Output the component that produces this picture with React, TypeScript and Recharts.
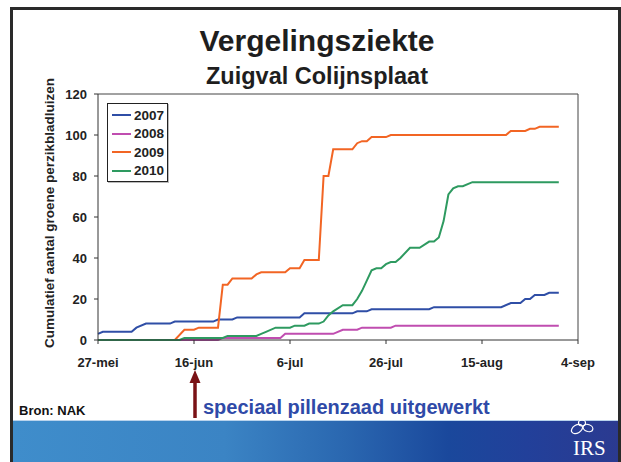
import React from 'react';
import { LineChart, Line, XAxis, YAxis, ReferenceLine } from 'recharts';

const title = 'Vergelingsziekte';
const subtitle = 'Zuigval Colijnsplaat';
const yLabel = 'Cumulatief aantal groene perzikbladluizen';
const xTickDays = [0, 20, 40, 60, 80, 100];
const xTickLabels = ['27-mei', '16-jun', '6-jul', '26-jul', '15-aug', '4-sep'];
const yTicks = [0, 20, 40, 60, 80, 100, 120];

const years = ['2007', '2008', '2009', '2010'];
const colors = ['#2f4ea6', '#c04db0', '#f26524', '#2e9a60'];

const days2007 = [0, 1, 7, 8, 10, 15, 16, 24, 25, 28, 29, 42, 43, 53, 54, 56, 57, 69, 70, 84, 86, 88, 89, 90, 91, 93, 94, 96];
const vals2007 = [3, 4, 4, 6, 8, 8, 9, 9, 10, 10, 11, 11, 13, 13, 14, 14, 15, 15, 16, 16, 18, 18, 20, 20, 22, 22, 23, 23];

const days2008 = [0, 25, 26, 38, 39, 49, 51, 54, 55, 61, 62, 96];
const vals2008 = [0, 0, 1, 1, 3, 3, 5, 5, 6, 6, 7, 7];

const days2009 = [0, 16, 18, 20, 21, 25, 26, 27, 28, 32, 33, 34, 39, 40, 42, 43, 46, 47, 48, 49, 53, 54, 55, 56, 57, 60, 61, 85, 86, 89, 90, 91, 92, 96];
const vals2009 = [0, 0, 5, 5, 6, 6, 27, 27, 30, 30, 32, 33, 33, 35, 35, 39, 39, 80, 80, 93, 93, 96, 97, 97, 99, 99, 100, 100, 102, 102, 103, 103, 104, 104];

const days2010 = [0, 17, 18, 26, 27, 33, 34, 35, 37, 40, 41, 43, 44, 46, 47, 48, 49, 51, 53, 54, 55, 56, 57, 58, 59, 60, 61, 62, 63, 65, 67, 69, 70, 71, 72, 73, 74, 75, 76, 78, 96];
const vals2010 = [0, 0, 1, 1, 2, 2, 3, 4, 6, 6, 7, 7, 8, 8, 9, 12, 14, 17, 17, 20, 24, 29, 34, 35, 35, 37, 38, 38, 40, 45, 45, 48, 48, 50, 58, 71, 74, 75, 75, 77, 77];

const annotation = 'speciaal pillenzaad uitgewerkt';
const source = 'Bron: NAK';
const logoText = 'IRS';

const toPoints = (days: number[], vals: number[]) => days.map((d, i) => ({ day: d, v: vals[i] }));
const seriesData = [
  toPoints(days2007, vals2007),
  toPoints(days2008, vals2008),
  toPoints(days2009, vals2009),
  toPoints(days2010, vals2010),
];

const FONT = '"Liberation Sans", Arial, sans-serif';

const LegendBox = () => (
  <div
    style={{
      position: 'absolute',
      left: 107,
      top: 103,
      width: 59,
      height: 75,
      border: '1px solid #222',
      background: '#fff',
      boxShadow: '1px 1px 0 #bbb',
      fontFamily: FONT,
      fontWeight: 'bold',
      fontSize: 13.5,
      color: '#222',
      paddingTop: 2,
      boxSizing: 'content-box',
    }}
  >
    {years.map((y, i) => (
      <div key={y} style={{ display: 'flex', alignItems: 'center', height: 18.5, marginLeft: 4 }}>
        <div style={{ width: 19, height: 2, background: colors[i], marginRight: 3 }} />
        <span>{y}</span>
      </div>
    ))}
  </div>
);

const YLabel = () => (
  <text
    x={49}
    y={213}
    transform="rotate(-90 49 213)"
    textAnchor="middle"
    dominantBaseline="central"
    style={{ fontFamily: FONT, fontWeight: 'bold', fontSize: 13.5, fill: '#222' }}
  >
    {yLabel}
  </text>
);

export default function App() {
  return (
    <div style={{ position: 'absolute', left: 0, top: 0, width: 621, height: 462, background: '#fff', overflow: 'hidden' }}>
      {/* slide frame */}
      <div style={{ position: 'absolute', left: 10, top: 7, width: 611, height: 455, borderTop: '3px solid #2a2a2a', borderLeft: '3px solid #2a2a2a', borderRight: '3px solid #2a2a2a', boxSizing: 'border-box' }} />
      {/* titles */}
      <div style={{ position: 'absolute', left: 0, top: 24, width: 634, textAlign: 'center', fontFamily: FONT, fontWeight: 'bold', fontSize: 30, color: '#1e1e1e', lineHeight: '34px' }}>{title}</div>
      <div style={{ position: 'absolute', left: 0, top: 63, width: 634, textAlign: 'center', fontFamily: FONT, fontWeight: 'bold', fontSize: 23.5, color: '#1e1e1e', lineHeight: '26px' }}>{subtitle}</div>

      <div style={{ position: 'absolute', left: 0, top: 0 }}>
        <LineChart width={621} height={462} margin={{ top: 94, right: 43, bottom: 92, left: 0 }}>
          <XAxis
            dataKey="day"
            type="number"
            domain={[0, 100]}
            ticks={xTickDays}
            tickFormatter={(d: number) => xTickLabels[xTickDays.indexOf(d)]}
            height={30}
            tickSize={4}
            tickMargin={14}
            stroke="#333"
            tick={{ fontFamily: FONT, fontWeight: 'bold', fontSize: 13, fill: '#222' }}
            allowDuplicatedCategory={false}
          />
          <YAxis
            type="number"
            domain={[0, 120]}
            ticks={yTicks}
            width={98}
            tickSize={4}
            tickMargin={7}
            stroke="#333"
            tick={{ fontFamily: FONT, fontWeight: 'bold', fontSize: 13, fill: '#222' }}
            label={<YLabel />}
          />
          <ReferenceLine y={120} stroke="#444" strokeWidth={1} />
          <ReferenceLine x={100} stroke="#444" strokeWidth={1} />
          {years.map((y, i) => (
            <Line
              key={y}
              data={seriesData[i]}
              dataKey="v"
              name={y}
              type="linear"
              stroke={colors[i]}
              strokeWidth={2}
              dot={false}
              activeDot={false}
              isAnimationActive={false}
            />
          ))}
        </LineChart>
      </div>
      <LegendBox />

      {/* arrow */}
      <svg style={{ position: 'absolute', left: 0, top: 0 }} width={621} height={462}>
        <line x1={195} y1={418} x2={195} y2={380} stroke="#7a1216" strokeWidth={3.5} />
        <polygon points="195,370 189.5,383 200.5,383" fill="#7a1216" />
      </svg>
      <div style={{ position: 'absolute', left: 203, top: 395, fontFamily: FONT, fontWeight: 'bold', fontSize: 20, color: '#2f4aa8', lineHeight: '24px', whiteSpace: 'nowrap' }}>{annotation}</div>
      <div style={{ position: 'absolute', left: 19, top: 403, fontFamily: FONT, fontWeight: 'bold', fontSize: 13, color: '#111', lineHeight: '16px' }}>{source}</div>

      {/* footer */}
      <div
        style={{
          position: 'absolute',
          left: 13,
          top: 420,
          width: 605,
          height: 42,
          background: 'linear-gradient(90deg, #3f8dcb 0%, #3b84c4 35%, #2a67b0 55%, #1a489c 72%, #22409a 85%, #2b3a90 100%)',
          borderTop: '1px solid #b9d3ec',
          boxSizing: 'border-box',
        }}
      />
      <svg style={{ position: 'absolute', left: 0, top: 0 }} width={621} height={462}>
        <g fill="none" stroke="#fff" strokeWidth={1.2}>
          <ellipse cx={577} cy={429} rx={6} ry={4} transform="rotate(-30 577 429)" />
          <ellipse cx={588} cy={428} rx={5} ry={3.5} transform="rotate(20 588 428)" />
          <ellipse cx={582} cy={423} rx={3.5} ry={3} />
        </g>
        <text x={573} y={455} fill="#fff" style={{ fontFamily: '"Liberation Serif", "Times New Roman", serif', fontSize: 21 }}>{logoText}</text>
      </svg>
    </div>
  );
}
